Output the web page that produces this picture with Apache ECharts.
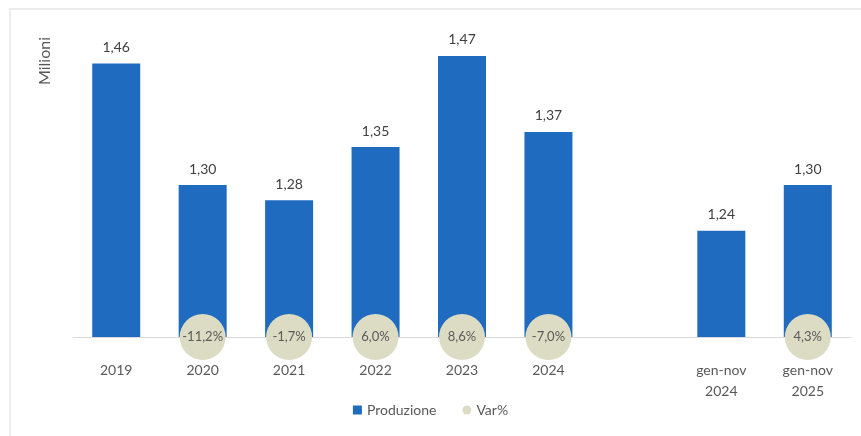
<!DOCTYPE html>
<html>
<head>
<meta charset="utf-8">
<script src="https://cdn.jsdelivr.net/npm/echarts@6/dist/echarts.min.js"></script>
<style>
html,body{margin:0;padding:0;background:#fff;}
#c{width:861px;height:436px;}
</style>
</head>
<body>
<div id="c"></div>
<script>
const categories = ['2019', '2020', '2021', '2022', '2023', '2024', '', 'gen-nov\n2024', 'gen-nov\n2025'];
const produzione = [1.46, 1.30, 1.28, 1.35, 1.47, 1.37, null, 1.24, 1.30];
const varPct = [null, -11.2, -1.7, 6.0, 8.6, -7.0, null, null, 4.3];

const fmt = (v, d) => v.toFixed(d).replace('.', ',');
const FONT = 'Lato, "Open Sans", sans-serif';

const chart = echarts.init(document.getElementById('c'));
chart.setOption({
  animation: false,
  backgroundColor: '#fff',
  textStyle: { fontFamily: FONT },
  graphic: [
    { type: 'rect', shape: { x: 10, y: 9, width: 870, height: 440 }, style: { fill: 'none', stroke: '#ececec', lineWidth: 2 }, z: -1 },
    { type: 'text', x: 45, y: 61, rotation: Math.PI / 2, style: { text: 'Milioni', fill: '#595959', font: '16px ' + FONT, align: 'center', verticalAlign: 'middle' } }
  ],
  legend: {
    bottom: 14, left: 'center', itemGap: 26, itemWidth: 9, itemHeight: 9,
    textStyle: { color: '#595959', fontSize: 14, fontFamily: FONT },
    data: [
      { name: 'Produzione', icon: 'rect' },
      { name: 'Var%', icon: 'circle', itemStyle: { color: '#dcdcc4' } }
    ]
  },
  grid: { left: 73, right: 10, top: 18, bottom: 99, containLabel: false },
  xAxis: {
    type: 'category', data: categories,
    axisLine: { lineStyle: { color: '#d9d9d9', width: 1 } },
    axisTick: { show: false },
    axisLabel: { color: '#595959', fontSize: 14, margin: 23, lineHeight: 21, interval: 0 }
  },
  yAxis: [
    { type: 'value', min: 1.1, max: 1.52, show: false, splitLine: { show: false } },
    { type: 'value', min: 0, max: 1, show: false, splitLine: { show: false } }
  ],
  series: [
    {
      name: 'Produzione', type: 'bar', data: produzione, barWidth: 48, yAxisIndex: 0,
      itemStyle: { color: '#1f6bbf' },
      label: { show: true, position: 'top', distance: 9, color: '#404040', fontSize: 14, fontFamily: FONT,
        formatter: p => fmt(p.value, 2) },
      z: 2
    },
    {
      name: 'Var%', type: 'scatter', yAxisIndex: 1,
      data: varPct.map(v => v === null ? '-' : 0),
      symbol: 'circle', symbolSize: 46,
      itemStyle: { color: '#dcdcc4', opacity: 1 },
      label: { show: true, position: 'inside', color: '#595959', fontSize: 13, fontFamily: FONT,
        formatter: p => fmt(varPct[p.dataIndex], 1) + '%' },
      z: 3
    }
  ]
});
</script>
</body>
</html>
